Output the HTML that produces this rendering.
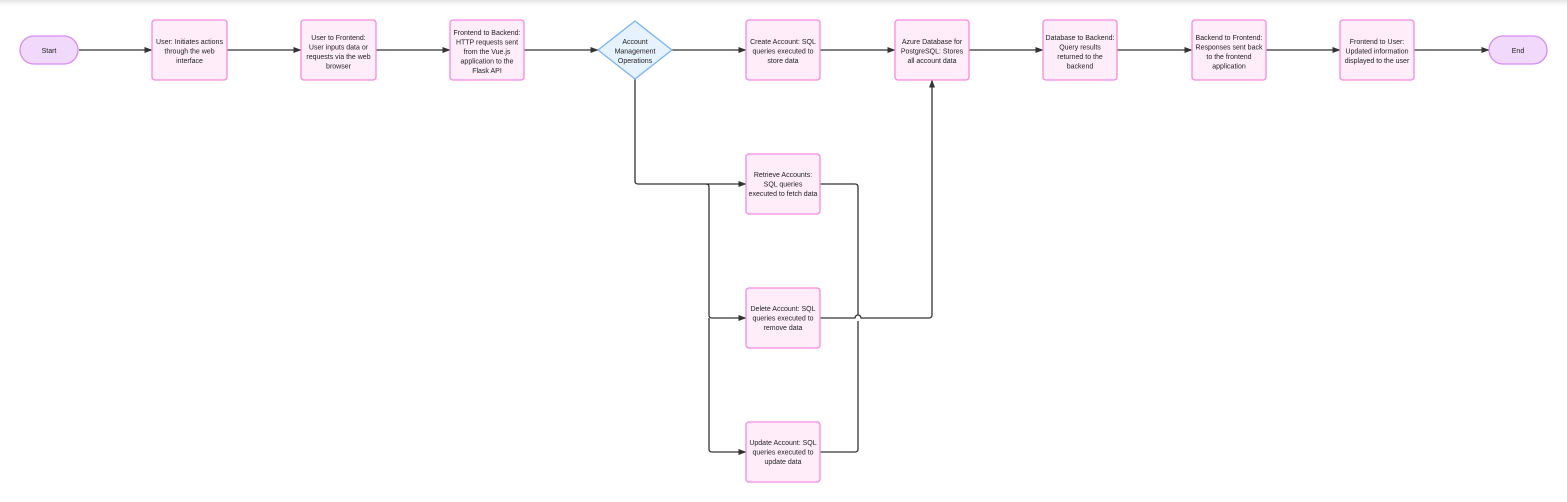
<!DOCTYPE html>
<html><head><meta charset="utf-8"><style>
html,body{margin:0;padding:0;background:#fff;}
body{width:1567px;height:502px;overflow:hidden;position:relative;}
.top{position:absolute;left:0;top:0;width:1567px;height:6px;background:linear-gradient(#e6e6e6,#fff);}
svg{position:absolute;left:0;top:0;}
text{font-family:"Liberation Sans",Arial,sans-serif;font-size:7px;fill:#222;text-anchor:middle;}
.b{fill:#ffeefa;stroke:#f58ae0;stroke-width:1.3;}
.p{fill:#f1d9fb;stroke:#d68cf2;stroke-width:1.3;}
.l{fill:none;stroke:#333;stroke-width:1.3;}
</style></head><body>
<div class="top"></div>
<svg width="1567" height="502" viewBox="0 0 1567 502">
<defs><marker id="a" markerWidth="8" markerHeight="6" refX="7.5" refY="3" orient="auto" markerUnits="userSpaceOnUse"><path d="M0,0 L8,3 L0,6z" fill="#333"/></marker></defs>
<g class="l" marker-end="url(#a)">
<path d="M79,50 H152"/>
<path d="M227,50 H301"/>
<path d="M376,50 H450"/>
<path d="M524,50 H598"/>
<path d="M672,50 H746"/>
<path d="M820,50 H895"/>
<path d="M969,50 H1043"/>
<path d="M1117,50 H1192"/>
<path d="M1266,50 H1340"/>
<path d="M1414,50 H1489"/>
<path d="M635,79 V181 Q635,184 638,184 H746"/>
<path d="M706,184 Q709,184 709,187 V315 Q709,318 712,318 H746"/>
<path d="M709,318 V449 Q709,452 712,452 H746"/>
<path d="M820,318 H855 A3,3 0 0 1 861,318 H929 Q932,318 932,315 V80"/>
</g>
<g class="l">
<path d="M820,184 H855 Q858,184 858,187 V315"/>
<path d="M820,452 H855 Q858,452 858,449 V321"/>
</g>
<rect class="p" x="20" y="36" width="58" height="28" rx="14"/><text x="49" y="53">Start</text>
<rect class="p" x="1489" y="36" width="58" height="28" rx="14"/><text x="1518" y="53">End</text>
<rect class="b" x="152" y="20" width="75" height="60" rx="3"/>
<text x="189.5" y="44">User: Initiates actions</text><text x="189.5" y="53.5">through the web</text><text x="189.5" y="63">interface</text>
<rect class="b" x="301" y="20" width="75" height="60" rx="3"/>
<text x="338.5" y="40">User to Frontend:</text><text x="338.5" y="49.5">User inputs data or</text><text x="338.5" y="59">requests via the web</text><text x="338.5" y="68.5">browser</text>
<rect class="b" x="450" y="20" width="74" height="60" rx="3"/>
<text x="487" y="35">Frontend to Backend:</text><text x="487" y="44.5">HTTP requests sent</text><text x="487" y="54">from the Vue.js</text><text x="487" y="63.5">application to the</text><text x="487" y="73">Flask API</text>
<path d="M635,21 L672,50 L635,79 L598,50 Z" fill="#e6f2fe" stroke="#7ab4f5" stroke-width="1.3" stroke-linejoin="round"/>
<text x="635" y="44">Account</text><text x="635" y="53.5">Management</text><text x="635" y="63">Operations</text>
<rect class="b" x="746" y="20" width="74" height="60" rx="3"/>
<text x="783" y="44">Create Account: SQL</text><text x="783" y="53.5">queries executed to</text><text x="783" y="63">store data</text>
<rect class="b" x="895" y="20" width="74" height="60" rx="3"/>
<text x="932" y="44">Azure Database for</text><text x="932" y="53.5">PostgreSQL: Stores</text><text x="932" y="63">all account data</text>
<rect class="b" x="1043" y="20" width="74" height="60" rx="3"/>
<text x="1080" y="40">Database to Backend:</text><text x="1080" y="49.5">Query results</text><text x="1080" y="59">returned to the</text><text x="1080" y="68.5">backend</text>
<rect class="b" x="1192" y="20" width="74" height="60" rx="3"/>
<text x="1229" y="40">Backend to Frontend:</text><text x="1229" y="49.5">Responses sent back</text><text x="1229" y="59">to the frontend</text><text x="1229" y="68.5">application</text>
<rect class="b" x="1340" y="20" width="74" height="60" rx="3"/>
<text x="1377" y="44">Frontend to User:</text><text x="1377" y="53.5">Updated information</text><text x="1377" y="63">displayed to the user</text>
<rect class="b" x="746" y="154" width="74" height="60" rx="3"/>
<text x="783" y="177">Retrieve Accounts:</text><text x="783" y="186.5">SQL queries</text><text x="783" y="196">executed to fetch data</text>
<rect class="b" x="746" y="288" width="74" height="60" rx="3"/>
<text x="783" y="311">Delete Account: SQL</text><text x="783" y="320.5">queries executed to</text><text x="783" y="330">remove data</text>
<rect class="b" x="746" y="422" width="74" height="60" rx="3"/>
<text x="783" y="445">Update Account: SQL</text><text x="783" y="454.5">queries executed to</text><text x="783" y="464">update data</text>
</svg>
</body></html>
